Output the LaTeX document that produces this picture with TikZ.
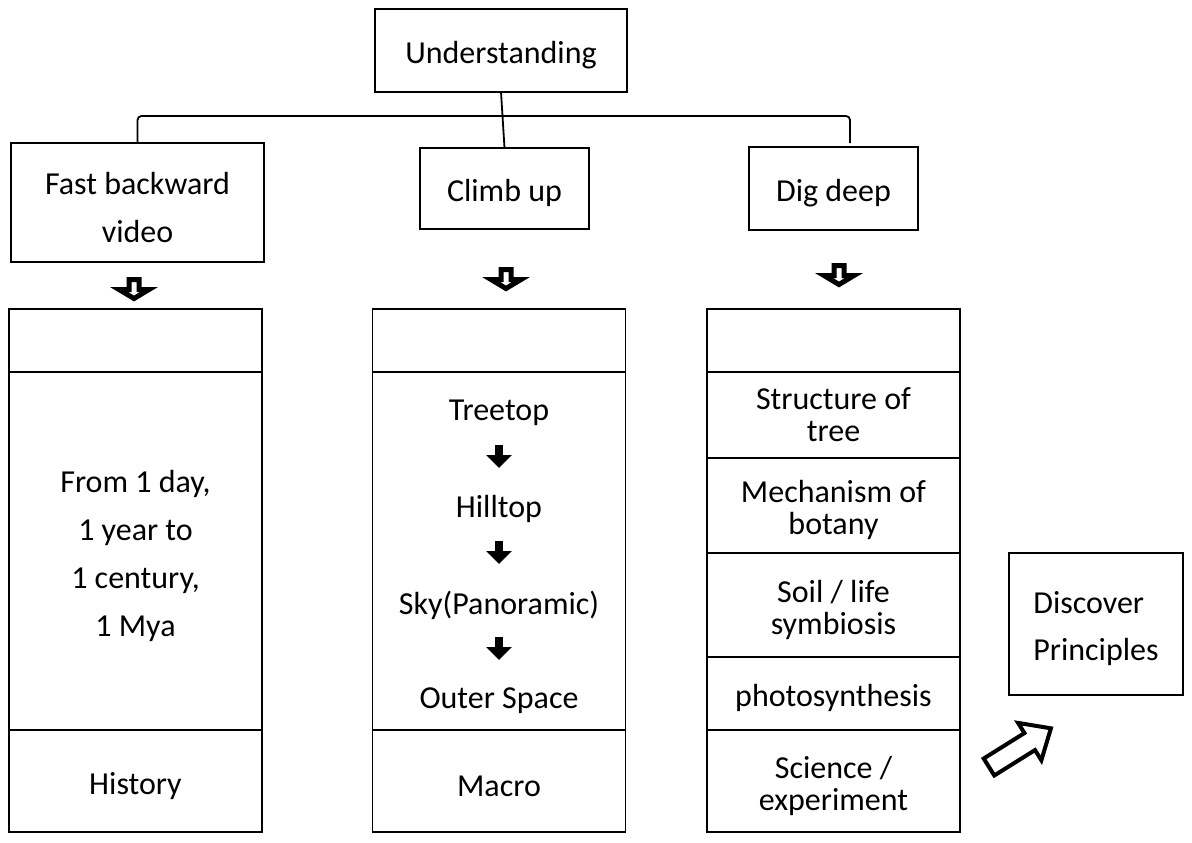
\documentclass[tikz,border=0pt]{standalone}
\usepackage{fontspec}
\setmainfont{Carlito}
\usetikzlibrary{positioning,arrows.meta}

\newcommand\hstrut{\rule{0pt}{32pt}}

\tikzset{
  main node/.style={draw, line width=1.8pt, outer sep=0pt, inner sep=0pt, align=center,
    font=\fontsize{32}{48}\selectfont, execute at begin node={\hstrut}},
  cell node/.style={main node, minimum width=253pt},
  tight node/.style={cell node, font=\fontsize{32}{32}\selectfont},
  text node/.style={font=\fontsize{32}{38}\selectfont},
  link/.style={line width=1.8pt},
  small arrow/.style={line width=8pt, -{Triangle[width=25pt,length=13pt]}},
  fat arrow/.pic={
    \draw[line width=5pt, fill=white] (-5,2.5) -- (5,2.5) -- (5,12.5) -- (15,12.5)
      -- (0,21.5) -- (-15,12.5) -- (-5,12.5) -- cycle;},
  open arrow/.pic={
    \draw[line width=4pt, fill=white] (0,-10) -- (48,-10) -- (48,-22) -- (73,0)
      -- (48,22) -- (48,10) -- (0,10) -- cycle;}
}

\begin{document}
\begin{tikzpicture}[x=1pt, y=-1pt]

      \useasboundingbox (0,0) rectangle (1192,843);

      %% top of the tree
      \node (Understanding) [main node, minimum width=252pt, minimum height=83pt] at (501,50.5) {Understanding};

      \node (FastBack) [main node, minimum width=253pt, minimum height=119pt] at (137.5,202.5) {\hstrut Fast backward\\video};
      \node (ClimbUp) [main node, minimum width=169pt, minimum height=81pt] at (504.5,188.5) {Climb up};
      \node (DigDeep) [main node, minimum width=169pt, minimum height=83pt] at (833.5,188.5) {Dig deep};

      \coordinate (DigLink) at (850,143);
      \draw[link] (Understanding.south) -- (ClimbUp.north);
      \draw[link, rounded corners=4pt] (FastBack.north) -- ++(0,-27) -| (DigLink);

      %% block arrows
      \pic at (134,277) {fat arrow};
      \pic at (506,267) {fat arrow};
      \pic at (839,263) {fat arrow};

      %% left column
      \node (TopL) [cell node, minimum height=63pt] at (135.5,340.5) {};
      \node (MidL) [cell node, minimum height=358pt, below=0pt of TopL] {\hstrut From 1 day,\\1 year to\\1 century,\\1 Mya};
      \node (BotL) [cell node, minimum height=102pt, below=0pt of MidL] {History};

      %% middle column
      \node (TopM) [cell node, minimum height=63pt] at (499,340.5) {};
      \node (MidM) [cell node, minimum height=358pt, below=0pt of TopM] {};
      \node (BotM) [cell node, minimum height=102pt, below=0pt of MidM] {Macro};

      \node (Treetop) [text node] at (499,413) {Treetop};
      \node (Hilltop) [text node, node distance=96pt, below of=Treetop] {Hilltop};
      \node (Sky) [text node, node distance=96pt, below of=Hilltop] {Sky(Panoramic)};
      \node (Space) [text node, node distance=96pt, below of=Sky] {Outer Space};

      \draw[small arrow] ([yshift=-32pt]Treetop.center) -- ([yshift=41pt]Hilltop.center);
      \draw[small arrow] ([yshift=-32pt]Hilltop.center) -- ([yshift=41pt]Sky.center);
      \draw[small arrow] ([yshift=-32pt]Sky.center) -- ([yshift=41pt]Space.center);

      %% right column
      \node (TopR) [cell node, minimum height=63pt] at (833.5,340.5) {};
      \node (R1) [tight node, minimum height=86pt, below=0pt of TopR] {Structure of\\tree};
      \node (R2) [tight node, minimum height=95pt, below=0pt of R1] {\hstrut Mechanism of\\botany};
      \node (R3) [tight node, minimum height=104pt, below=0pt of R2] {\hstrut Soil / life\\symbiosis};
      \node (R4) [tight node, minimum height=73pt, below=0pt of R3] {photosynthesis};
      \node (R5) [tight node, minimum height=102pt, below=0pt of R4] {\hstrut Science /\\experiment};

      %% result
      \node (Discover) [main node, align=left, minimum width=174pt, minimum height=142pt,
        font=\fontsize{32}{47}\selectfont] at (1096,624) {\hstrut Discover\\Principles};
      \pic[rotate=32] at (989,767) {open arrow};

\end{tikzpicture}
\end{document}
